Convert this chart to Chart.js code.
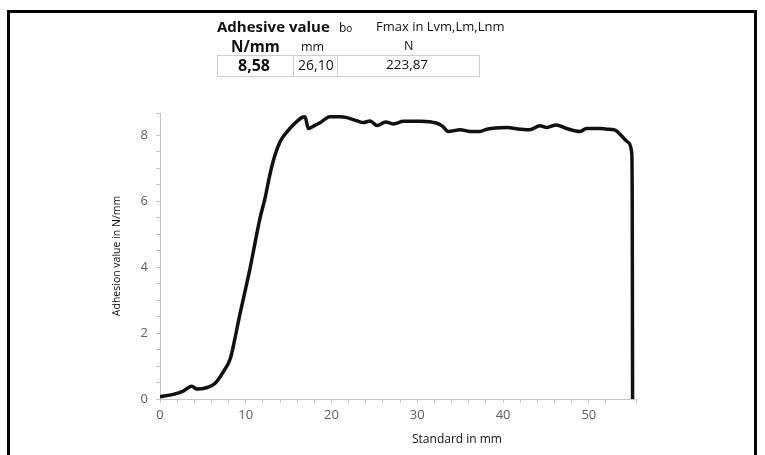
<!DOCTYPE html>
<html>
<head>
<meta charset="utf-8">
<script src="https://cdn.jsdelivr.net/npm/chart.js@4"></script>
<style>
  html, body { margin: 0; padding: 0; background: #fff; }
  body { width: 765px; height: 455px; position: relative; overflow: hidden; font-family: "Open Sans", sans-serif; }
  #wrap { position: absolute; left: 0; top: 0; width: 765px; height: 455px; }
  .frame { position: absolute; left: 7px; top: 10px; width: 744px; height: 460px; border: 3px solid #000; pointer-events: none; }
  .t { position: absolute; white-space: nowrap; color: #111; line-height: 1; }
  .b { font-weight: 700; }
  .box { position: absolute; left: 217px; top: 55px; width: 261px; height: 20px; border: 1px solid #cfcfcf; }
  .div1 { position: absolute; top: 55px; height: 21px; width: 0; border-left: 1px solid #cfcfcf; }
  .xtitle { position: absolute; left: 412px; top: 430px; font-size: 12px; color: #111; white-space: nowrap; }
</style>
</head>
<body>
<div id="wrap"><canvas id="adhChart" width="765" height="455"></canvas></div>
<div class="frame"></div>

<div class="t b" style="left:217px; top:19px; font-size:15px;">Adhesive value</div>
<div class="t" style="left:339px; top:22px; font-size:12px;">b<span style="font-size:10px">o</span></div>
<div class="t" style="left:376px; top:20px; font-size:13px;">Fmax in Lvm,Lm,Lnm</div>
<div class="t b" style="left:231px; top:39px; font-size:15.3px;">N/mm</div>
<div class="t" style="left:301px; top:41px; font-size:12.5px;">mm</div>
<div class="t" style="left:404px; top:40px; font-size:12.5px;">N</div>
<div class="box"></div>
<div class="div1" style="left:293px;"></div>
<div class="div1" style="left:337px;"></div>
<div class="t b" style="left:238px; top:57px; font-size:16px;">8,58</div>
<div class="t" style="left:298px; top:58px; font-size:14px;">26,10</div>
<div class="t" style="left:386px; top:58px; font-size:13.5px;">223,87</div>
<div class="xtitle">Standard in mm</div>

<script>
// travel in mm (x) and adhesion value in N/mm (y)
var xMm = [0, 1.55, 2.7, 3.7, 4.3, 5.4, 6.4, 7.4, 8.2, 8.74, 9.3, 9.9, 10.5, 11.07, 11.65, 12.24,
    12.8, 13.4, 14, 14.8, 15.7, 16.5, 16.9, 17.3, 17.9, 18.7, 19.8, 21, 21.8, 23, 23.7, 24.5, 25.3,
    26.3, 27.2, 28.4, 30.3, 32.3, 32.9, 33.6, 35, 36.2, 37.3, 38.1, 40.4, 42, 43.1, 44.3, 45.1, 46.2,
    47.4, 49, 49.7, 51.3, 52.1, 53, 53.8, 54.6, 55, 55.06, 55.1];
var adhesion = [0.07, 0.14, 0.24, 0.39, 0.3, 0.34, 0.47, 0.83, 1.23, 1.84, 2.55, 3.25, 3.96, 4.72,
    5.47, 6.08, 6.79, 7.39, 7.8, 8.1, 8.35, 8.53, 8.56, 8.2, 8.27, 8.38, 8.56, 8.56, 8.53, 8.43,
    8.38, 8.43, 8.29, 8.4, 8.34, 8.42, 8.42, 8.36, 8.28, 8.11, 8.16, 8.11, 8.11, 8.18, 8.23, 8.18,
    8.16, 8.28, 8.23, 8.31, 8.2, 8.11, 8.2, 8.2, 8.18, 8.16, 7.98, 7.78, 7.47, 6.04, 0];

// labelled ticks
var xTickLabels = [0, 10, 20, 30, 40, 50];
var yTickLabels = [0, 2, 4, 6, 8];

var points = xMm.map(function (x, i) { return { x: x, y: adhesion[i] }; });

var ctx = document.getElementById('adhChart').getContext('2d');
var myChart = new Chart(ctx, {
    type: 'line',
    data: {
        datasets: [{
            data: points,
            borderColor: '#111',
            borderWidth: 3.5,
            pointRadius: 0,
            cubicInterpolationMode: 'monotone',
            fill: false
        }]
    },
    options: {
        responsive: false,
        animation: false,
        layout: { padding: { left: 108, top: 113, right: 129, bottom: 4 } },
        plugins: { legend: { display: false }, tooltip: { enabled: false } },
        scales: {
            x: {
                type: 'linear',
                min: 0,
                max: 55.5,
                afterFit: function (scale) { scale.height = 52; },
                border: { color: '#c4c4c4' },
                grid: { drawOnChartArea: false, color: '#c4c4c4', tickLength: 4 },
                ticks: {
                    stepSize: 2,
                    autoSkip: false,
                    maxRotation: 0,
                    padding: 4,
                    color: '#5e5e5e',
                    font: { family: 'Open Sans', size: 13 },
                    callback: function (v) { return xTickLabels.indexOf(v) >= 0 ? String(v) : ''; }
                }
            },
            y: {
                min: 0,
                max: 8.67,
                afterFit: function (scale) { scale.width = 52; },
                border: { color: '#c4c4c4' },
                grid: { drawOnChartArea: false, color: '#c4c4c4', tickLength: 4 },
                title: {
                    display: true,
                    text: 'Adhesion value in N/mm',
                    color: '#111',
                    font: { family: 'Open Sans', size: 10.5 },
                    padding: { top: 3, bottom: 0 }
                },
                ticks: {
                    stepSize: 0.5,
                    autoSkip: false,
                    padding: 8,
                    color: '#5e5e5e',
                    font: { family: 'Open Sans', size: 13 },
                    callback: function (v) { return yTickLabels.indexOf(v) >= 0 ? String(v) : ''; }
                }
            }
        }
    }
});
</script>
</body>
</html>
